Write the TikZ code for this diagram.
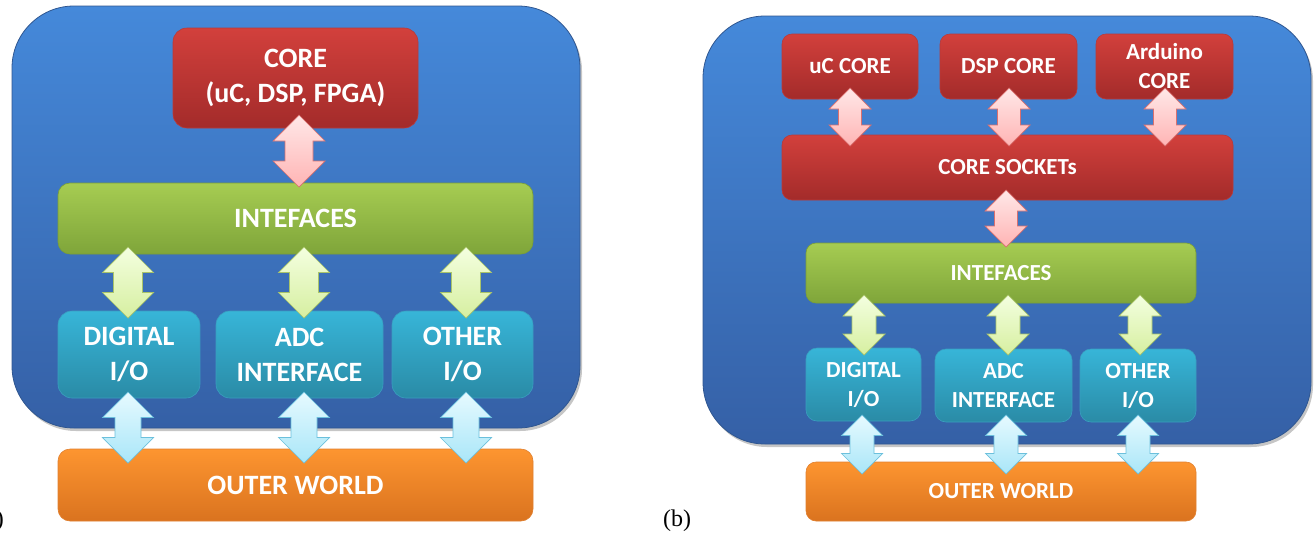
\documentclass[tikz,border=0pt]{standalone}
\usepackage{fontspec}
\setmainfont{Carlito}
\newfontfamily\seriffont{Liberation Serif}
\usetikzlibrary{shadows,calc}
\definecolor{panelTop}{HTML}{4589DA}
\definecolor{panelBot}{HTML}{3560A6}
\definecolor{panelEdge}{HTML}{2F5690}
\definecolor{redTop}{HTML}{D2403C}
\definecolor{redBot}{HTML}{A32B2A}
\definecolor{redEdge}{HTML}{B83A3A}
\definecolor{greenTop}{HTML}{A6CC52}
\definecolor{greenBot}{HTML}{7FA53A}
\definecolor{greenEdge}{HTML}{7A9E38}
\definecolor{tealTop}{HTML}{37B5D8}
\definecolor{tealBot}{HTML}{2A8BA6}
\definecolor{tealEdge}{HTML}{3A9EC0}
\definecolor{orangeTop}{HTML}{FD9530}
\definecolor{orangeBot}{HTML}{DA731F}
\definecolor{orangeEdge}{HTML}{E08030}
\definecolor{pinkTop}{HTML}{FFE8E8}
\definecolor{pinkBot}{HTML}{FFB4B4}
\definecolor{pinkEdge}{HTML}{D9706F}
\definecolor{grTop}{HTML}{F4FFE0}
\definecolor{grBot}{HTML}{D6EFA0}
\definecolor{grEdge}{HTML}{A9C46A}
\definecolor{ltTop}{HTML}{E6FAFF}
\definecolor{ltBot}{HTML}{A9E6F8}
\definecolor{ltEdge}{HTML}{6CC0DC}
\tikzset{
  panel/.style={rounded corners=62pt, top color=panelTop, bottom color=panelBot,
    draw=panelEdge, line width=0.8pt,
    drop shadow={shadow xshift=2pt, shadow yshift=-3pt, opacity=0.45}},
  box/.style={inner sep=0pt, align=center, text=white, line width=0.6pt},
  bigtext/.style={font=\fontsize{28}{35}\selectfont\bfseries},
  smalltext/.style={font=\fontsize{23}{29}\selectfont\bfseries},
  redbox/.style={box, top color=redTop, bottom color=redBot, draw=redEdge},
  greenbox/.style={box, top color=greenTop, bottom color=greenBot, draw=greenEdge},
  tealbox/.style={box, top color=tealTop, bottom color=tealBot, draw=tealEdge},
  orangebox/.style={box, top color=orangeTop, bottom color=orangeBot, draw=orangeEdge},
  pinkarrow/.style={top color=pinkTop, bottom color=pinkBot, draw=pinkEdge, line width=0.7pt},
  greenarrow/.style={top color=grTop, bottom color=grBot, draw=grEdge, line width=0.7pt},
  bluearrow/.style={top color=ltTop, bottom color=ltBot, draw=ltEdge, line width=0.7pt},
}
% name, x1, y1, x2, y2, style, text
\newcommand\mkbox[7]{\node[#6, minimum width={#4-#2}, minimum height={#5-#3}] (#1) at ({(#2+#4)/2},{(#3+#5)/2}) {#7};}
% style, top coordinate, bottom coordinate, half head width, half shaft width
\newcommand\darr[5]{\path[#1] let \p1=(#2), \p2=(#3) in
  (\x1,\y1) -- ({\x1+#4pt},{\y1-#4pt}) -- ({\x1+#5pt},{\y1-#4pt}) -- ({\x1+#5pt},{\y2+#4pt})
  -- ({\x1+#4pt},{\y2+#4pt}) -- (\x2,\y2) -- ({\x1-#4pt},{\y2+#4pt}) -- ({\x1-#5pt},{\y2+#4pt})
  -- ({\x1-#5pt},{\y1-#4pt}) -- ({\x1-#4pt},{\y1-#4pt}) -- cycle;}
\begin{document}
\begin{tikzpicture}[x=1pt,y=-1pt]
\useasboundingbox (0,0) rectangle (1314,533);
% ---------- panel (a) ----------
\node[font=\seriffont\fontsize{24}{28}\selectfont, anchor=east, inner sep=0pt] (labA) at (4,521) {(a)};
\path[panel] (12,6) rectangle (580,428);
\mkbox{coreA}{173}{28}{418}{128}{redbox, bigtext, rounded corners=14pt}{CORE\\(uC, DSP, FPGA)}
\mkbox{interA}{58}{183}{533}{254}{greenbox, bigtext, rounded corners=12pt}{INTEFACES}
\mkbox{digA}{58}{311}{200}{398}{tealbox, bigtext, rounded corners=14pt}{DIGITAL\\I/O}
\mkbox{adcA}{216}{311}{383}{398}{tealbox, bigtext, rounded corners=14pt}{ADC\\INTERFACE}
\mkbox{othA}{392}{311}{533}{398}{tealbox, bigtext, rounded corners=14pt}{OTHER\\I/O}
\mkbox{outA}{58}{449}{533}{521}{orangebox, bigtext, rounded corners=12pt}{OUTER WORLD}
\coordinate (pAt) at (299,115); \coordinate (pAb) at (299,187);
\darr{pinkarrow}{pAt}{pAb}{26}{14}
\coordinate (g1At) at (128,247); \coordinate (g1Ab) at (128,318);
\coordinate (g2At) at (304,247); \coordinate (g2Ab) at (304,318);
\coordinate (g3At) at (466,247); \coordinate (g3Ab) at (466,318);
\darr{greenarrow}{g1At}{g1Ab}{25.5}{14.5}
\darr{greenarrow}{g2At}{g2Ab}{25.5}{14.5}
\darr{greenarrow}{g3At}{g3Ab}{25.5}{14.5}
\coordinate (b1At) at (128,392); \coordinate (b1Ab) at (128,463);
\coordinate (b2At) at (304,392); \coordinate (b2Ab) at (304,463);
\coordinate (b3At) at (466,392); \coordinate (b3Ab) at (466,463);
\darr{bluearrow}{b1At}{b1Ab}{25.5}{13}
\darr{bluearrow}{b2At}{b2Ab}{25.5}{13}
\darr{bluearrow}{b3At}{b3Ab}{25.5}{13}
% ---------- panel (b) ----------
\node[font=\seriffont\fontsize{24}{28}\selectfont, inner sep=0pt] (labB) at (677,521) {(b)};
\path[panel] (703,16) rectangle (1311,444);
\mkbox{ucB}{782}{34}{918}{99}{redbox, smalltext, rounded corners=10pt}{uC CORE}
\mkbox{dspB}{940}{34}{1077}{99}{redbox, smalltext, rounded corners=10pt}{DSP CORE}
\mkbox{ardB}{1096}{34}{1233}{99}{redbox, smalltext, rounded corners=10pt}{Arduino\\CORE}
\mkbox{sockB}{782}{135}{1233}{200}{redbox, smalltext, rounded corners=10pt}{CORE SOCKETs}
\mkbox{interB}{806}{243}{1196}{303}{greenbox, smalltext, rounded corners=10pt}{INTEFACES}
\mkbox{digB}{806}{348}{921}{421}{tealbox, smalltext, rounded corners=11pt}{DIGITAL\\I/O}
\mkbox{adcB}{935}{349}{1072}{422}{tealbox, smalltext, rounded corners=11pt}{ADC\\INTERFACE}
\mkbox{othB}{1080}{349}{1196}{422}{tealbox, smalltext, rounded corners=11pt}{OTHER\\I/O}
\mkbox{outB}{806}{462}{1196}{521}{orangebox, smalltext, rounded corners=10pt}{OUTER WORLD}
\coordinate (p1Bt) at (850,88);  \coordinate (p1Bb) at (850,146);
\coordinate (p2Bt) at (1009,88); \coordinate (p2Bb) at (1009,146);
\coordinate (p3Bt) at (1165,88); \coordinate (p3Bb) at (1165,146);
\coordinate (p4Bt) at (1006,190); \coordinate (p4Bb) at (1006,247);
\darr{pinkarrow}{p1Bt}{p1Bb}{21}{11.5}
\darr{pinkarrow}{p2Bt}{p2Bb}{21}{11.5}
\darr{pinkarrow}{p3Bt}{p3Bb}{21}{11.5}
\darr{pinkarrow}{p4Bt}{p4Bb}{21}{11.5}
\coordinate (g1Bt) at (864,295);  \coordinate (g1Bb) at (864,355);
\coordinate (g2Bt) at (1008,295); \coordinate (g2Bb) at (1008,355);
\coordinate (g3Bt) at (1140,295); \coordinate (g3Bb) at (1140,355);
\darr{greenarrow}{g1Bt}{g1Bb}{21}{12}
\darr{greenarrow}{g2Bt}{g2Bb}{21}{12}
\darr{greenarrow}{g3Bt}{g3Bb}{21}{12}
\coordinate (b1Bt) at (862,415);  \coordinate (b1Bb) at (862,474);
\coordinate (b2Bt) at (1006,415); \coordinate (b2Bb) at (1006,474);
\coordinate (b3Bt) at (1138,415); \coordinate (b3Bb) at (1138,474);
\darr{bluearrow}{b1Bt}{b1Bb}{20.5}{12}
\darr{bluearrow}{b2Bt}{b2Bb}{20.5}{12}
\darr{bluearrow}{b3Bt}{b3Bb}{20.5}{12}
\end{tikzpicture}
\end{document}
